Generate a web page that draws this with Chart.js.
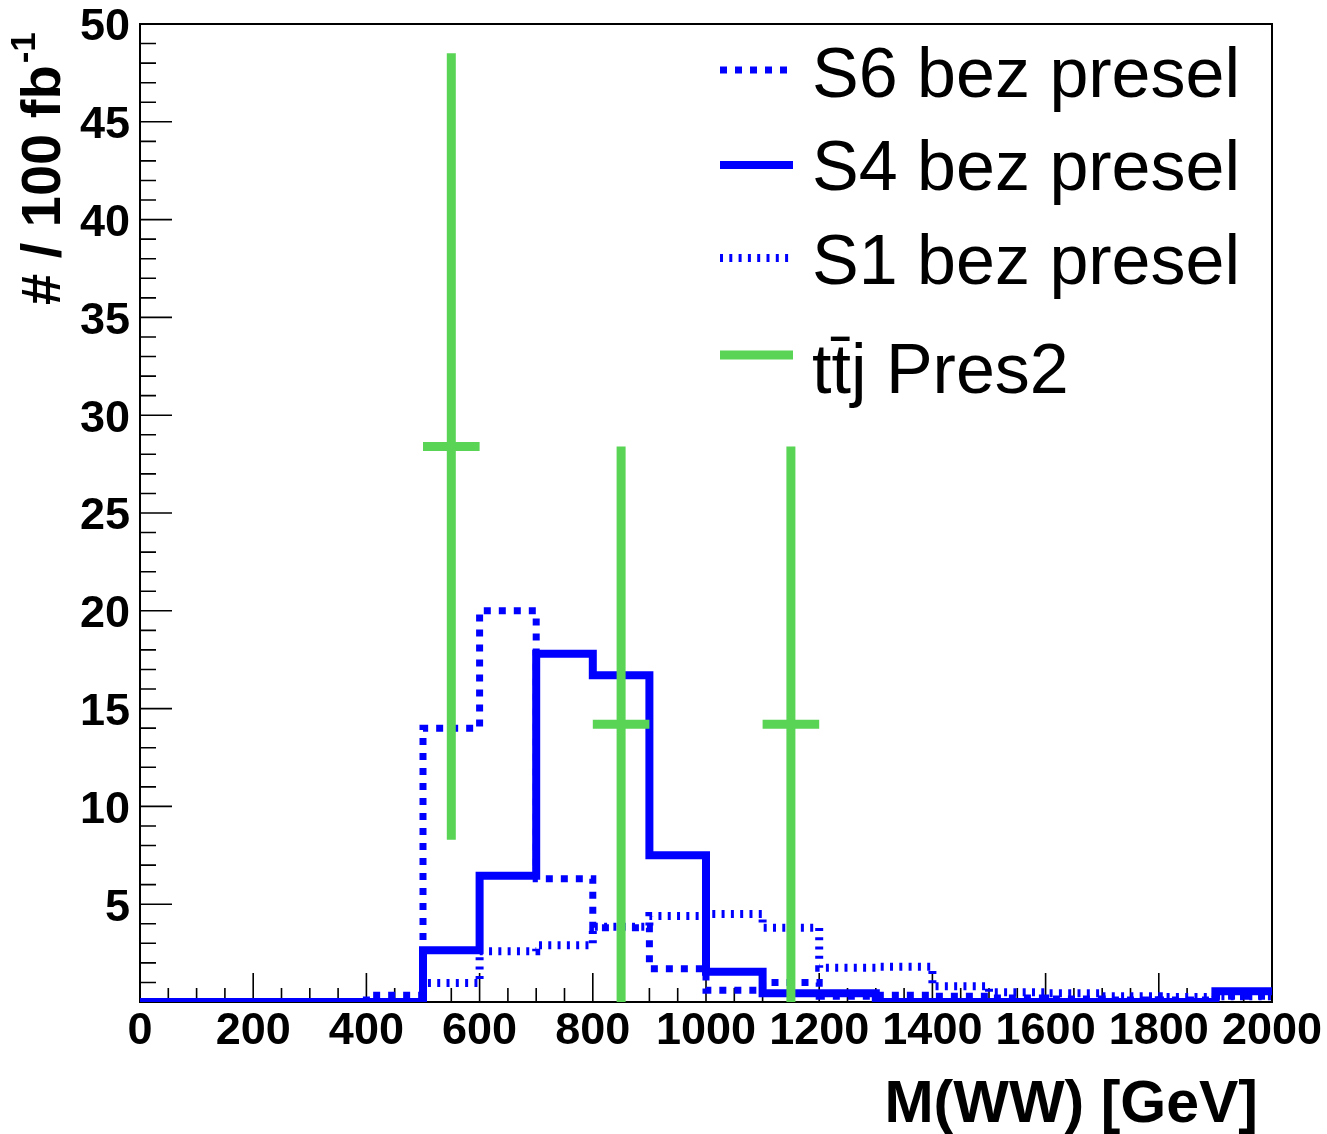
<!DOCTYPE html>
<html>
<head>
<meta charset="utf-8">
<script src="https://cdn.jsdelivr.net/npm/chart.js@4.4.1/dist/chart.umd.min.js"></script>
<style>
  html, body { margin: 0; padding: 0; background: #ffffff; }
  canvas { display: block; }
</style>
</head>
<body>
<canvas id="chart" width="1327" height="1134"></canvas>
<script>
// M(WW) spectra in 100 GeV bins, events per 100 fb^-1
const binLowEdges = [0, 100, 200, 300, 400, 500, 600, 700, 800, 900,
                     1000, 1100, 1200, 1300, 1400, 1500, 1600, 1700, 1800, 1900];
const binWidth = 100;

const s6Values = [0, 0, 0, 0, 0.35, 14.0, 20.0, 6.3, 3.8, 1.7,
                  0.6, 1.0, 0.3, 0.35, 0.3, 0.2, 0.15, 0.1, 0.1, 0.3];
const s4Values = [0, 0, 0, 0, 0, 2.65, 6.45, 17.8, 16.7, 7.5,
                  1.55, 0.45, 0.45, 0, 0, 0, 0, 0, 0, 0.55];
const s1Values = [0, 0, 0, 0, 0, 0.97, 2.6, 2.9, 3.85, 4.4,
                  4.5, 3.8, 1.75, 1.8, 0.8, 0.5, 0.45, 0.3, 0.25, 0.3];

// ttbar+jet background: bin centres, contents and errors
const ttjCenters = [550, 850, 1150];
const ttjValues = [28.4, 14.2, 14.2];
const ttjErrors = [20.1, 14.2, 14.2];

const xTickLabels = [0, 200, 400, 600, 800, 1000, 1200, 1400, 1600, 1800, 2000];
const yTickLabels = [5, 10, 15, 20, 25, 30, 35, 40, 45, 50];

const seriesLabels = ['S6 bez presel', 'S4 bez presel', 'S1 bez presel', 'tt\u0304j Pres2'];

const BLUE = '#0000ff';
const GREEN = '#59d454';
const FONT = "'Liberation Sans', Arial, Helvetica, sans-serif";

// outline of a histogram: one point per low edge plus the upper edge of the last bin
function histOutline(values) {
  const pts = binLowEdges.map((x, i) => ({ x: x, y: values[i] }));
  const last = binLowEdges.length - 1;
  pts.push({ x: binLowEdges[last] + binWidth, y: values[last] });
  return pts;
}

// error-bar crosses, separated by gaps
function errorCrosses() {
  const pts = [];
  ttjCenters.forEach((c, i) => {
    const v = ttjValues[i], e = ttjErrors[i];
    pts.push({ x: c - binWidth / 2, y: v }, { x: c + binWidth / 2, y: v }, { x: c, y: null });
    pts.push({ x: c, y: v - e }, { x: c, y: v + e }, { x: c, y: null });
  });
  return pts;
}

// frame and inward ticks, drawn beneath the histograms
const frameTicks = {
  id: 'frameTicks',
  beforeDatasetsDraw(chart) {
    const { ctx, chartArea: a, scales: { x, y } } = chart;
    ctx.save();
    ctx.strokeStyle = '#000';
    ctx.lineWidth = 1.6;
    ctx.beginPath();
    for (let v = xTickLabels[0]; v <= xTickLabels[xTickLabels.length - 1]; v += 50) {
      const px = x.getPixelForValue(v);
      const len = xTickLabels.includes(v) ? 29 : 14;
      ctx.moveTo(px, a.bottom);
      ctx.lineTo(px, a.bottom - len);
    }
    for (let v = 0; v <= 50; v += 1) {
      const py = y.getPixelForValue(v);
      const len = v % 5 === 0 ? 32 : 16;
      ctx.moveTo(a.left, py);
      ctx.lineTo(a.left + len, py);
    }
    ctx.stroke();
    ctx.lineWidth = 2;
    ctx.strokeRect(a.left, a.top, a.right - a.left, a.bottom - a.top);
    ctx.restore();
  }
};

// axis titles and the legend box
const annotations = {
  id: 'annotations',
  afterDraw(chart) {
    const { ctx } = chart;
    ctx.save();
    ctx.fillStyle = '#000';

    // x title
    ctx.font = 'bold 59px ' + FONT;
    ctx.textAlign = 'right';
    ctx.textBaseline = 'alphabetic';
    ctx.fillText('M(WW) [GeV]', 1258, 1122);

    // y title with superscript
    ctx.save();
    ctx.translate(60, 305);
    ctx.rotate(-Math.PI / 2);
    ctx.textAlign = 'left';
    ctx.font = 'bold 56px ' + FONT;
    const main = '# / 100 fb';
    ctx.fillText(main, 0, 0);
    const w = ctx.measureText(main).width;
    ctx.font = 'bold 35px ' + FONT;
    ctx.fillText('-1', w + 2, -25);
    ctx.restore();

    // legend
    const rowsLine = [70, 165, 258, 355];
    const rowsText = [97, 190, 284, 393];
    ctx.font = '70px ' + FONT;
    ctx.textAlign = 'left';
    chart.data.datasets.forEach((ds) => {
      const r = ds.legendRow;
      ctx.save();
      ctx.strokeStyle = ds.borderColor;
      ctx.lineWidth = ds.borderWidth;
      ctx.lineCap = 'butt';
      ctx.setLineDash(ds.borderDash || []);
      ctx.beginPath();
      ctx.moveTo(720, rowsLine[r]);
      ctx.lineTo(793, rowsLine[r]);
      ctx.stroke();
      ctx.restore();
      ctx.fillText(ds.label, 812, rowsText[r]);
    });
    ctx.restore();
  }
};

const common = {
  pointRadius: 0,
  pointHoverRadius: 0,
  fill: false,
  borderCapStyle: 'butt',
  borderJoinStyle: 'miter',
  tension: 0
};

new Chart(document.getElementById('chart'), {
  type: 'line',
  data: {
    datasets: [
      Object.assign({}, common, {
        label: seriesLabels[3], legendRow: 3, order: 0,
        data: errorCrosses(), borderColor: GREEN, borderWidth: 9,
        spanGaps: false, stepped: false
      }),
      Object.assign({}, common, {
        label: seriesLabels[2], legendRow: 2, order: 1,
        data: histOutline(s1Values), borderColor: BLUE, borderWidth: 8,
        borderDash: [3, 6.3], stepped: true
      }),
      Object.assign({}, common, {
        label: seriesLabels[1], legendRow: 1, order: 2,
        data: histOutline(s4Values), borderColor: BLUE, borderWidth: 8,
        stepped: true
      }),
      Object.assign({}, common, {
        label: seriesLabels[0], legendRow: 0, order: 3,
        data: histOutline(s6Values), borderColor: BLUE, borderWidth: 7,
        borderDash: [7, 8], stepped: true
      })
    ]
  },
  options: {
    responsive: false,
    animation: false,
    events: [],
    layout: { padding: { left: 0, top: 24, right: 55, bottom: 0 }, autoPadding: false },
    plugins: { legend: { display: false }, tooltip: { enabled: false }, title: { display: false } },
    scales: {
      x: {
        type: 'linear', min: 0, max: 2000,
        grid: { display: false, drawTicks: false },
        border: { display: false },
        afterBuildTicks(scale) { scale.ticks = xTickLabels.map(v => ({ value: v })); },
        afterFit(scale) {
          scale.height = 132;
          scale.paddingLeft = 0;
          scale.paddingRight = 0;
        },
        ticks: {
          autoSkip: false, maxRotation: 0, minRotation: 0, padding: 3,
          callback: (v) => String(v),
          color: '#000', font: { family: FONT, weight: 'bold', size: 45 }
        }
      },
      y: {
        type: 'linear', min: 0, max: 50,
        grid: { display: false, drawTicks: false },
        border: { display: false },
        afterBuildTicks(scale) { scale.ticks = yTickLabels.map(v => ({ value: v })); },
        afterFit(scale) {
          scale.width = 140;
          scale.paddingTop = 0;
          scale.paddingBottom = 0;
        },
        ticks: {
          autoSkip: false, padding: 10, labelOffset: 4,
          callback: (v) => String(v),
          color: '#000', font: { family: FONT, weight: 'bold', size: 45 }
        }
      }
    }
  },
  plugins: [frameTicks, annotations]
});
</script>
</body>
</html>
